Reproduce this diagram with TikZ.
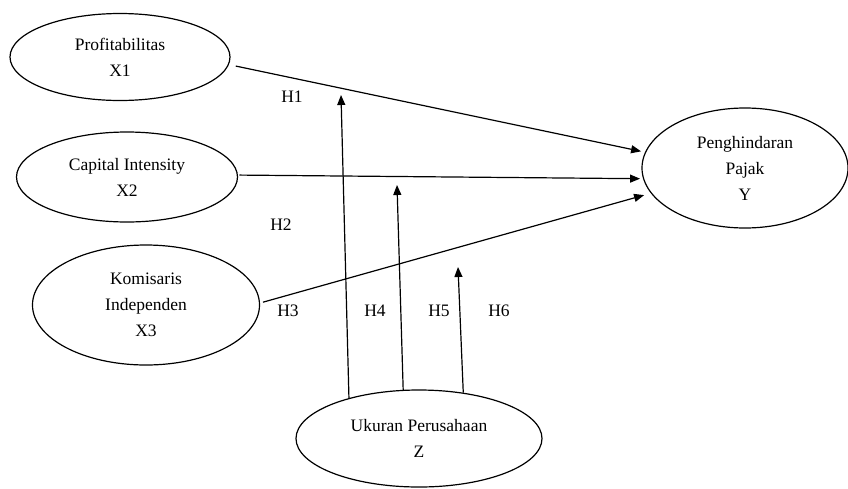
\documentclass[tikz,border=0pt]{standalone}
\usepackage{fontspec}
\setmainfont{Liberation Serif}
\usetikzlibrary{shapes.geometric,arrows.meta}
\begin{document}
\begin{tikzpicture}[x=1pt,y=-1pt,
  txt/.style={font=\fontsize{17.5}{26}\selectfont},
  var/.style={txt, draw, ellipse, line width=1.2pt, inner sep=0pt, align=center},
  lab/.style={txt, inner sep=0pt},
  arr/.style={line width=1.2pt, -{Triangle[length=10pt,width=8pt]}}
]
\useasboundingbox (0,0) rectangle (848,488);

\node[var, minimum width=220pt, minimum height=87pt] (x1) at (120,57) {Profitabilitas\\X1};
\node[var, minimum width=221pt, minimum height=90pt] (x2) at (127,177) {Capital Intensity\\X2};
\node[var, minimum width=227pt, minimum height=120pt] (x3) at (146,305) {Komisaris\\Independen\\X3};
\node[var, minimum width=206pt, minimum height=120pt] (y) at (745,168) {Penghindaran\\Pajak\\Y};
\node[var, minimum width=246pt, minimum height=97pt] (z) at (419,438.5) {Ukuran Perusahaan\\Z};

\coordinate (t1) at (341,95);
\coordinate (t2) at (397,185);
\coordinate (t3) at (458,267);

\draw[arr, shorten <=7pt, shorten >=4pt] (x1.-4.5) -- (y.171.9);
\draw[arr, shorten <=1.5pt, shorten >=3pt] (x2.1.5) -- (y.186.6);
\draw[arr, shorten <=3pt, shorten >=7pt] (x3.1.5) -- (y.195.6);

\draw[arr] (z.150.3) -- (t1);
\draw[arr] (z.108.3) -- (t2);
\draw[arr] (z.46.6) -- (t3);

\node[lab] (h1) at (292,97) {H1};
\node[lab] (h2) at (281,225) {H2};
\node[lab] (h3) at (288,311) {H3};
\node[lab] (h4) at (375,311) {H4};
\node[lab] (h5) at (439,311) {H5};
\node[lab] (h6) at (499,311) {H6};
\end{tikzpicture}
\end{document}
